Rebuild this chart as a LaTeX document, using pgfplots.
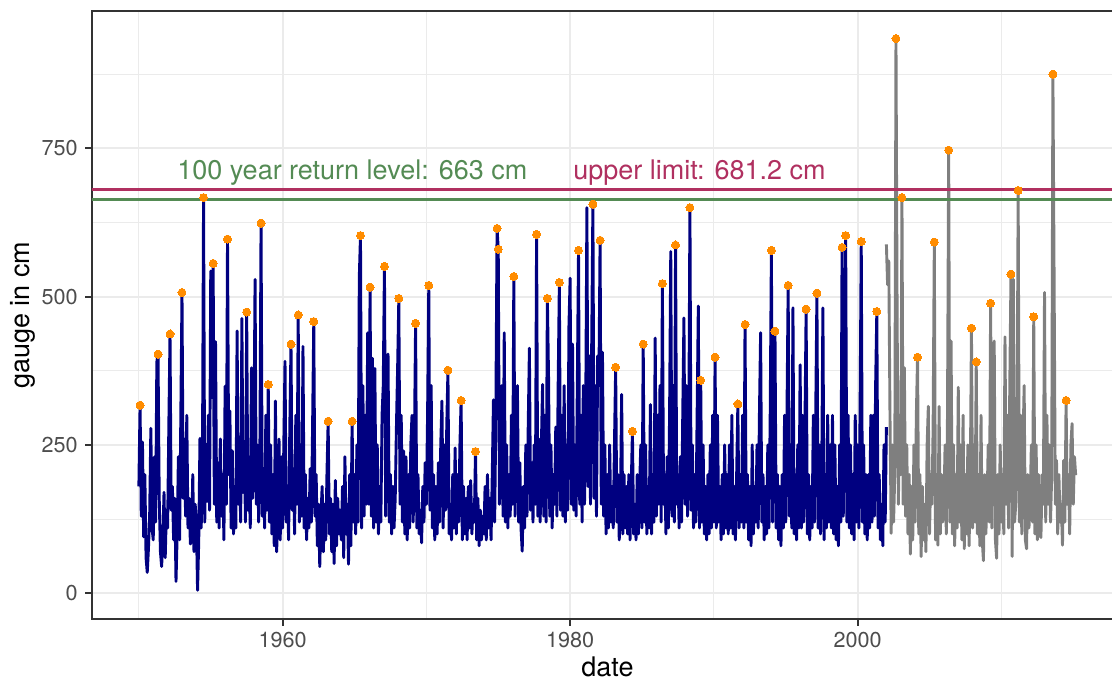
\documentclass[border=0pt]{standalone}
\usepackage{fontspec}
\setmainfont{TeX Gyre Heros}
\usepackage{pgfplots}
\usepackage{pgfplotstable}
\pgfplotsset{compat=1.18}
\definecolor{navyc}{HTML}{000080}
\definecolor{grayc}{HTML}{7F7F7F}
\definecolor{maroonc}{HTML}{B03060}
\definecolor{greenc}{HTML}{548B54}
\definecolor{orangec}{HTML}{FF8C00}
\definecolor{gridc}{HTML}{EBEBEB}
\definecolor{gtwenty}{HTML}{333333}
\definecolor{gthirty}{HTML}{4D4D4D}

\pgfplotstableread[row sep=\\]{
v\\
180\\317\\130\\255\\95\\200\\60\\35\\75\\130\\278\\110\\
90\\230\\120\\390\\403\\160\\70\\45\\90\\170\\60\\140\\
110\\280\\437\\140\\180\\90\\160\\20\\100\\230\\90\\295\\
507\\160\\260\\130\\300\\110\\160\\83\\90\\200\\70\\150\\
120\\5\\90\\261\\110\\180\\667\\120\\251\\155\\300\\140\\
543\\330\\556\\150\\424\\120\\220\\110\\260\\130\\200\\90\\
349\\150\\597\\200\\307\\110\\240\\100\\180\\110\\442\\150\\
210\\120\\463\\170\\250\\120\\474\\140\\200\\110\\380\\160\\
250\\529\\150\\250\\120\\230\\624\\130\\200\\110\\300\\140\\
352\\120\\250\\100\\200\\80\\324\\70\\130\\260\\90\\230\\
110\\250\\391\\120\\180\\90\\280\\420\\140\\210\\100\\300\\
150\\469\\120\\250\\130\\416\\110\\200\\90\\160\\110\\210\\
120\\280\\458\\130\\200\\80\\150\\45\\130\\180\\70\\150\\
90\\200\\290\\100\\160\\70\\150\\50\\190\\80\\160\\100\\
140\\90\\180\\60\\230\\100\\150\\49\\200\\80\\290\\120\\
200\\100\\250\\120\\532\\603\\110\\350\\130\\300\\150\\439\\
150\\516\\130\\396\\110\\379\\120\\250\\100\\180\\120\\300\\
350\\551\\130\\300\\403\\120\\200\\100\\180\\110\\160\\280\\
380\\497\\150\\300\\120\\240\\100\\230\\90\\200\\110\\250\\
300\\120\\250\\455\\110\\200\\100\\140\\85\\180\\120\\220\\
150\\300\\519\\140\\350\\110\\200\\90\\180\\100\\220\\120\\
250\\324\\110\\250\\140\\280\\376\\100\\150\\90\\200\\110\\
245\\100\\200\\120\\250\\325\\90\\180\\100\\160\\90\\180\\
110\\190\\100\\150\\120\\239\\90\\160\\80\\140\\90\\130\\
100\\180\\90\\200\\110\\160\\90\\200\\326\\120\\300\\615\\
580\\150\\250\\350\\130\\439\\120\\250\\110\\200\\130\\300\\
150\\534\\130\\250\\350\\120\\220\\110\\71\\180\\110\\250\\
130\\280\\413\\140\\220\\120\\250\\150\\605\\130\\260\\120\\
250\\352\\130\\300\\120\\497\\363\\130\\250\\110\\200\\150\\
280\\130\\350\\524\\140\\300\\130\\350\\120\\250\\140\\450\\
531\\150\\420\\140\\250\\130\\350\\578\\150\\300\\120\\350\\
150\\300\\650\\180\\400\\150\\420\\656\\160\\350\\130\\400\\
350\\595\\150\\406\\130\\250\\100\\200\\110\\250\\120\\180\\
110\\250\\381\\120\\200\\90\\150\\335\\100\\200\\110\\180\\
100\\200\\90\\180\\273\\100\\150\\90\\200\\100\\180\\250\\
110\\420\\120\\250\\100\\180\\110\\318\\100\\200\\120\\430\\
130\\300\\150\\350\\120\\522\\150\\200\\100\\230\\110\\300\\
576\\130\\350\\120\\587\\150\\200\\110\\230\\120\\300\\464\\
150\\350\\130\\250\\650\\140\\250\\110\\200\\120\\300\\484\\
110\\359\\120\\250\\100\\180\\90\\200\\100\\250\\110\\300\\
120\\398\\110\\300\\120\\180\\90\\200\\100\\250\\110\\200\\
100\\250\\110\\300\\100\\180\\90\\200\\319\\110\\200\\120\\
300\\110\\453\\120\\200\\90\\180\\80\\250\\100\\180\\120\\
250\\110\\300\\439\\120\\200\\90\\180\\100\\250\\110\\300\\
578\\120\\300\\442\\110\\200\\90\\180\\80\\200\\110\\300\\
120\\300\\519\\130\\250\\110\\481\\100\\200\\90\\250\\110\\
385\\110\\300\\120\\280\\479\\100\\200\\90\\180\\110\\300\\
120\\300\\506\\110\\250\\100\\200\\481\\90\\200\\110\\300\\
120\\250\\110\\300\\100\\250\\90\\180\\80\\250\\120\\583\\
130\\300\\603\\120\\300\\110\\250\\100\\200\\90\\300\\120\\
250\\110\\300\\593\\120\\250\\100\\200\\90\\200\\110\\300\\
120\\300\\130\\350\\475\\110\\200\\90\\150\\80\\250\\120\\
280\\
}\bluedata

\pgfplotstableread[row sep=\\]{
v\\
588\\520\\560\\300\\101\\250\\120\\200\\935\\452\\150\\300\\
200\\667\\150\\380\\130\\250\\100\\200\\66\\180\\90\\250\\
120\\300\\398\\100\\200\\62\\180\\90\\150\\70\\250\\315\\
100\\200\\150\\280\\592\\90\\200\\81\\315\\100\\200\\120\\
150\\250\\100\\300\\747\\120\\425\\100\\250\\80\\200\\110\\
347\\120\\250\\90\\300\\75\\200\\100\\250\\80\\180\\447\\
110\\250\\120\\390\\100\\200\\80\\300\\90\\55\\200\\100\\
150\\250\\120\\489\\110\\300\\425\\90\\59\\200\\100\\250\\
120\\200\\100\\432\\150\\300\\110\\350\\538\\62\\529\\120\\
150\\250\\679\\120\\300\\100\\250\\350\\90\\75\\200\\110\\
150\\250\\120\\466\\100\\250\\90\\200\\100\\94\\200\\150\\
507\\120\\300\\150\\250\\120\\200\\875\\532\\150\\224\\100\\
200\\120\\150\\81\\224\\120\\325\\150\\200\\100\\250\\286\\
150\\230\\199\\
}\graydata

\begin{document}
\begin{tikzpicture}
\begin{axis}[name=ax, scale only axis, width=515.5pt, height=304.1pt,
  xmin=1946.74, xmax=2018.46, ymin=-43.6, ymax=981.6,
  xtick={1960,1980,2000}, minor xtick={1950,1970,1990,2010},
  ytick={0,250,500,750}, minor ytick={125,375,625,875},
  grid=both,
  major grid style={draw=gridc, line width=1.1pt},
  minor grid style={draw=gridc, line width=0.55pt},
  tick align=outside, tick pos=left,
  major tick length=3.4pt, minor tick length=0pt,
  every tick/.append style={draw=gtwenty, line width=1.1pt},
  axis line style={draw=gtwenty, line width=1.1pt},
  tick label style={font=\fontsize{10.8}{12}\selectfont, text=gthirty},
  /pgf/number format/assume math mode=true,
  /pgf/number format/1000 sep={},
  xticklabel style={anchor=north, inner sep=0pt, yshift=-2.7pt},
  yticklabel style={anchor=east, inner sep=0pt, xshift=-3.6pt},
  xlabel={date}, ylabel={gauge in cm},
  label style={font=\fontsize{13.5}{16}\selectfont, text=black},
  xlabel style={at={(axis description cs:0.5,0)}, anchor=base, yshift=-28.6pt},
  ylabel style={at={(axis description cs:-0.0669,0.5)}, anchor=center},
]
\addplot[navyc, line width=1.45pt, line join=round] table[x expr=1950+\coordindex/12, y=v] {\bluedata};
\addplot[grayc, line width=1.45pt, line join=round] table[x expr=2002+\coordindex/12, y=v] {\graydata};
\addplot[maroonc, line width=1.5pt] coordinates {(1940,681.2) (2025,681.2)};
\addplot[greenc, line width=1.5pt] coordinates {(1940,663) (2025,663)};
\addplot[orangec, only marks, mark=*, mark size=2pt, mark options={draw=orangec, fill=orangec, line width=0pt}] coordinates {
(1950.0833,317) (1951.3333,403) (1952.1667,437) (1953.0,507) (1954.5,667) (1955.1667,556) (1956.1667,597) (1957.5,474) (1958.5,624) (1959.0,352) (1960.5833,420) (1961.0833,469) (1962.1667,458) (1963.1667,290) (1964.8333,290) (1965.4167,603) (1966.0833,516) (1967.0833,551) (1968.0833,497) (1969.25,455) (1970.1667,519) (1971.5,376) (1972.4167,325) (1973.4167,239) (1974.9167,615) (1975.0,580) (1976.0833,534) (1977.6667,605) (1978.4167,497) (1979.25,524) (1980.5833,578) (1981.5833,656) (1982.0833,595) (1983.1667,381) (1984.3333,273) (1985.0833,420) (1986.4167,522) (1987.3333,587) (1988.3333,650) (1989.0833,359) (1990.0833,398) (1991.6667,319) (1992.1667,453) (1994.0,578) (1994.25,442) (1995.1667,519) (1996.4167,479) (1997.1667,506) (1998.9167,583) (1999.1667,603) (2000.25,593) (2001.3333,475)
(2002.6667,935) (2003.0833,667) (2004.1667,398) (2005.3333,592) (2006.3333,747) (2007.9167,447) (2008.25,390) (2009.25,489) (2010.6667,538) (2011.1667,679) (2012.25,466) (2013.5833,875) (2014.5,325)
};
\node[text=greenc, font=\fontsize{13.5}{16}\selectfont, anchor=base, inner sep=0pt] at (axis cs:1964.85,698) {100 year return level: 663 cm};
\node[text=maroonc, font=\fontsize{13.5}{16}\selectfont, anchor=base, inner sep=0pt] at (axis cs:1989.0,698) {upper limit: 681.2 cm};
\end{axis}
\pgfresetboundingbox
\path[use as bounding box] ([xshift=-46pt,yshift=-31.1pt]ax.south west) rectangle ([xshift=510pt,yshift=5.45pt]ax.north west);
\end{tikzpicture}
\end{document}
